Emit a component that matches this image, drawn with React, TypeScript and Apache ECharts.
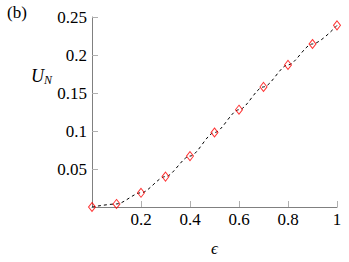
import React, { useEffect, useRef } from "react";
import * as echarts from "echarts";

const epsilon = [0, 0.1, 0.2, 0.3, 0.4, 0.5, 0.6, 0.7, 0.8, 0.9, 1.0];
const uN = [0, 0.004, 0.0187, 0.040, 0.067, 0.098, 0.128, 0.158, 0.187, 0.2145, 0.239];
const curveU = [0, 0.004, 0.0187, 0.040, 0.067, 0.098, 0.128, 0.158, 0.187, 0.2145, 0.239];

const FONT = "serif";

export default function App() {
  const ref = useRef<HTMLDivElement>(null);
  useEffect(() => {
    if (!ref.current) return;
    const chart = echarts.init(ref.current, null, { renderer: "svg" });
    chart.setOption({
      animation: false,
      backgroundColor: "#fff",
      textStyle: { fontFamily: FONT },
      grid: { left: 92, right: 12, top: 17, bottom: 48, containLabel: false },
      xAxis: {
        type: "value",
        min: 0,
        max: 1,
        interval: 0.2,
        name: "ϵ",
        nameLocation: "middle",
        nameGap: 33,
        nameTextStyle: { fontFamily: FONT, fontStyle: "italic", fontSize: 17, color: "#000" },
        axisLine: { show: true, lineStyle: { color: "#808080", width: 1 } },
        axisTick: { show: true, inside: true, length: 6, lineStyle: { color: "#b0b0b0" } },
        splitLine: { show: false },
        axisLabel: {
          showMinLabel: false,
          margin: 4,
          fontFamily: FONT,
          fontSize: 17,
          color: "#000",
          formatter: (v: number) => (v === 0 ? "" : String(+v.toFixed(2))),
        },
      },
      yAxis: {
        type: "value",
        min: 0,
        max: 0.25,
        interval: 0.05,
        axisLine: { show: true, lineStyle: { color: "#808080", width: 1 } },
        axisTick: { show: true, inside: true, length: 6, lineStyle: { color: "#b0b0b0" } },
        splitLine: { show: false },
        axisLabel: {
          showMinLabel: false,
          margin: 5,
          fontFamily: FONT,
          fontSize: 17,
          color: "#000",
          formatter: (v: number) => (v === 0 ? "" : String(+v.toFixed(2))),
        },
      },
      graphic: [
        {
          type: "text",
          left: 7,
          top: 4,
          style: { text: "(b)", fontFamily: FONT, fontSize: 17, fill: "#000" },
        },
        {
          type: "text",
          left: 31,
          top: 67,
          style: {
            text: "{u|U}{n|N}",
            rich: {
              u: { fontFamily: FONT, fontStyle: "italic", fontSize: 18, fill: "#000" },
              n: { fontFamily: FONT, fontStyle: "italic", fontSize: 12, fill: "#000", padding: [8, 0, 0, 0] },
            },
          },
        },
      ],
      series: [
        {
          type: "line",
          data: epsilon.map((x, i) => [x, curveU[i]]),
          smooth: 0.3,
          smoothMonotone: "x",
          showSymbol: false,
          symbol: "none",
          lineStyle: { color: "#000", width: 1, type: [3, 3] },
          z: 2,
        },
        {
          type: "scatter",
          data: epsilon.map((x, i) => [x, uN[i]]),
          symbol: "diamond",
          symbolSize: [7, 9],
          itemStyle: { color: "rgba(255,255,255,0)", borderColor: "#ff0000", borderWidth: 1 },
          z: 3,
        },
      ],
    });
    return () => chart.dispose();
  }, []);
  return <div ref={ref} style={{ width: 349, height: 262, position: "absolute", left: 0, top: 0 }} />;
}
